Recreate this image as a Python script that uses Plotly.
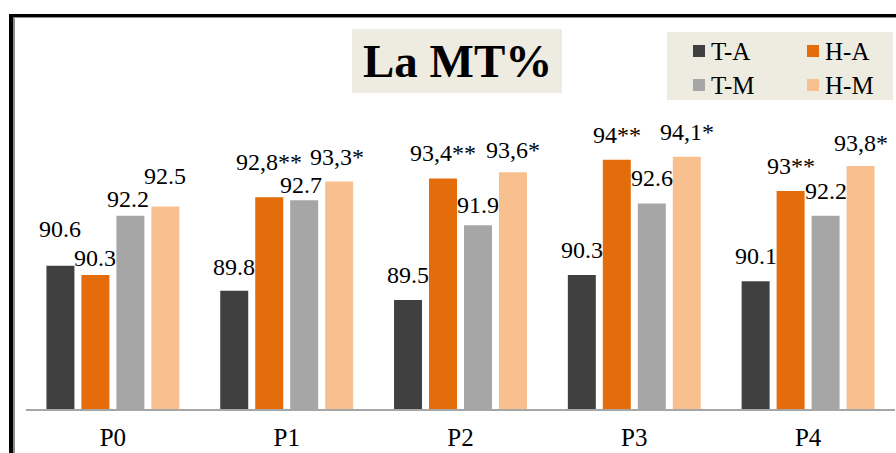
import plotly.graph_objects as go

# ---- data ----
categories = ["P0", "P1", "P2", "P3", "P4"]
series_names = ["T-A", "H-A", "T-M", "H-M"]
t_a = [90.6, 89.8, 89.5, 90.3, 90.1]
h_a = [90.3, 92.8, 93.4, 94.0, 93.0]
t_m = [92.2, 92.7, 91.9, 92.6, 92.2]
h_m = [92.5, 93.3, 93.6, 94.1, 93.8]
# significance markers shown next to the values
t_a_sig = ["", "", "", "", ""]
h_a_sig = ["", "**", "**", "**", "**"]
t_m_sig = ["", "", "", "", ""]
h_m_sig = ["", "*", "*", "*", "*"]
title_text = "La MT%"

series_values = [t_a, h_a, t_m, h_m]
series_sig = [t_a_sig, h_a_sig, t_m_sig, h_m_sig]
colors = ["#404040", "#E46C0A", "#A6A6A6", "#F9C08F"]

FONT = "Times New Roman, Liberation Serif, serif"
W, H = 896, 453
ML, MR, MT, MB = 26, 1, 20, 44
PW, PH = W - ML - MR, H - MT - MB
Y0 = 86.0
PX_PER_UNIT = 31.15
Y1 = Y0 + PH / PX_PER_UNIT
BARGAP = 0.195
SLOT = PW / len(categories) * (1 - BARGAP) / len(series_names)


def fmt(v, sig):
    if sig:
        return f"{v:g}".replace(".", ",") + sig
    return f"{v:.1f}"


def px_x(px):
    return (px - ML) / PW


def px_y(py):
    return (H - MB - py) / PH


fig = go.Figure()
for name, vals, col in zip(series_names, series_values, colors):
    fig.add_trace(go.Bar(x=categories, y=vals, name=name, marker_color=col,
                         marker_line_width=0, showlegend=False))

# value labels sit above each bar; a few are nudged to avoid neighbours
label_lift = 25
nudge = {(0, 0): (0, 12), (0, 1): (0, -8), (0, 2): (-2, -8), (0, 3): (0, 6),
         (1, 0): (0, -1), (1, 1): (0, 10), (1, 2): (-3, -10), (1, 3): (-2, 0),
         (2, 2): (0, -5), (2, 3): (0, -3), (4, 3): (0, -2)}
for si, (vals, sigs) in enumerate(zip(series_values, series_sig)):
    for ci, (cat, v, s) in enumerate(zip(categories, vals, sigs)):
        dx, dy = nudge.get((ci, si), (0, 0))
        fig.add_annotation(x=cat, y=v, xref="x", yref="y", text=fmt(v, s),
                           showarrow=False, xanchor="center", yanchor="middle",
                           xshift=(si - 1.5) * SLOT + dx, yshift=label_lift + dy,
                           font=dict(family=FONT, size=24, color="#000000"))

shapes = []
# chart frame (top and left edges)
shapes.append(dict(type="line", xref="paper", yref="paper", x0=px_x(11), x1=px_x(11),
                   y0=px_y(14), y1=px_y(460), line=dict(color="#000000", width=4)))
shapes.append(dict(type="line", xref="paper", yref="paper", x0=px_x(9), x1=px_x(900),
                   y0=px_y(15.5), y1=px_y(15.5), line=dict(color="#000000", width=3)))
shapes.append(dict(type="line", xref="paper", yref="paper", x0=px_x(14), x1=px_x(14),
                   y0=px_y(17), y1=px_y(460), line=dict(color="#8C8C8C", width=2)))
shapes.append(dict(type="line", xref="paper", yref="paper", x0=px_x(13), x1=px_x(900),
                   y0=px_y(17.5), y1=px_y(17.5), line=dict(color="#8C8C8C", width=1)))

# title box
shapes.append(dict(type="rect", xref="paper", yref="paper", x0=px_x(352), x1=px_x(562),
                   y0=px_y(93), y1=px_y(29), fillcolor="#EEEBE0", line_width=0, layer="below"))
fig.add_annotation(x=px_x(457), y=px_y(61), xref="paper", yref="paper", text=f"<b>{title_text}</b>",
                   showarrow=False, xanchor="center", yanchor="middle",
                   font=dict(family=FONT, size=47, color="#000000"))

# legend box
shapes.append(dict(type="rect", xref="paper", yref="paper", x0=px_x(667), x1=px_x(893),
                   y0=px_y(100), y1=px_y(32), fillcolor="#EEEBE0", line_width=0, layer="below"))
legend_cols = [693, 807]
legend_rows = [51, 85]
for i, (name, col) in enumerate(zip(series_names, colors)):
    cx = legend_cols[i % 2]
    cy = legend_rows[i // 2]
    shapes.append(dict(type="rect", xref="paper", yref="paper", x0=px_x(cx), x1=px_x(cx + 12),
                       y0=px_y(cy + 6), y1=px_y(cy - 6), fillcolor=col, line_width=0))
    fig.add_annotation(x=px_x(cx + 16), y=px_y(cy), xref="paper", yref="paper", text=name,
                       showarrow=False, xanchor="left", yanchor="middle",
                       font=dict(family=FONT, size=25, color="#000000"))

fig.update_layout(
    width=W, height=H,
    margin=dict(l=ML, r=MR, t=MT, b=MB, pad=0, autoexpand=False),
    paper_bgcolor="#FFFFFF", plot_bgcolor="#FFFFFF",
    barmode="group", bargap=BARGAP, bargroupgap=0.2,
    shapes=shapes,
    xaxis=dict(showgrid=False, zeroline=False, showline=True, linecolor="#A6A6A6",
               linewidth=2, ticks="", ticklabelstandoff=5, automargin=False,
               tickfont=dict(family=FONT, size=25, color="#000000")),
    yaxis=dict(range=[Y0, Y1], visible=False, showgrid=False, zeroline=False,
               automargin=False),
)

fig.write_html("out.html")
